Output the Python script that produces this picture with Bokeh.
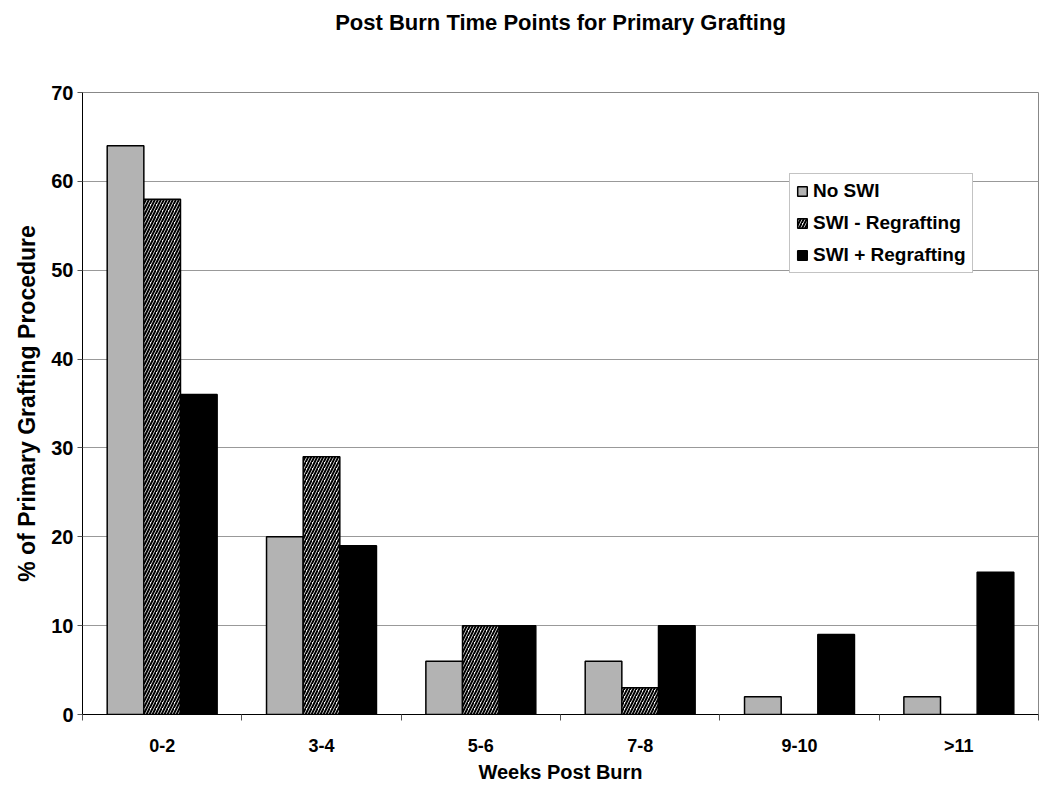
from bokeh.plotting import figure
from bokeh.models import (ColumnDataSource, Range1d, FixedTicker, LinearAxis,
                          CustomJSTickFormatter, Legend, LegendItem)
from bokeh.transform import dodge
from bokeh.embed import file_html
from bokeh.resources import INLINE

categories = ["0-2", "3-4", "5-6", "7-8", "9-10", ">11"]
no_swi = [64, 20, 6, 6, 2, 2]
swi_minus = [58, 29, 10, 3, 0, 0]
swi_plus = [36, 19, 10, 10, 9, 16]
series_names = ["No SWI", "SWI - Regrafting", "SWI + Regrafting"]
y_ticks = [0, 10, 20, 30, 40, 50, 60, 70]
title_text = "Post Burn Time Points for Primary Grafting"

FONT = "Liberation Sans"
n = len(categories)

# category index -> centre of its slot on a numeric axis
source = ColumnDataSource(data=dict(cat=categories, pos=[i + 0.5 for i in range(n)],
                                    a=no_swi, b=swi_minus, c=swi_plus))

p = figure(width=1050, height=787, x_range=Range1d(0, n),
           y_range=Range1d(0, 70), output_backend="svg", toolbar_location=None,
           min_border_left=82, min_border_right=12,
           min_border_top=92, min_border_bottom=73)

W = 0.23
r1 = p.vbar(x=dodge("pos", -W), top="a", width=W, source=source,
            fill_color="#b3b3b3", line_color="black", line_width=1.5)
r2 = p.vbar(x=dodge("pos", 0), top="b", width=W, source=source,
            fill_color="white", line_color="black", line_width=1.5,
            hatch_pattern="/", hatch_color="black", hatch_scale=6, hatch_weight=2)
r3 = p.vbar(x=dodge("pos", W), top="c", width=W, source=source,
            fill_color="black", line_color="black", line_width=1.5)

# x axis (bottom): ticks at category boundaries, labels at centres
xax = p.below[0]
xax.ticker = FixedTicker(ticks=[i + 0.5 for i in range(n)], minor_ticks=list(range(n + 1)))
xax.formatter = CustomJSTickFormatter(args=dict(labels=categories),
                                      code="return labels[Math.floor(tick)]")
xax.axis_label = "Weeks Post Burn"
xax.major_tick_out = 0
xax.major_tick_in = 0
xax.minor_tick_out = 6
xax.minor_tick_in = 0
xax.minor_tick_line_color = "#555555"
xax.axis_line_color = "black"
xax.major_label_standoff = 15
xax.major_label_text_font = FONT
xax.major_label_text_font_size = "18px"
xax.major_label_text_font_style = "bold"
xax.major_label_text_color = "black"
xax.axis_label_text_font = FONT
xax.axis_label_text_font_size = "20px"
xax.axis_label_text_font_style = "bold"
xax.axis_label_text_color = "black"
xax.axis_label_standoff = 2

# title carried by a bare axis above the plot
tax = LinearAxis(ticker=FixedTicker(ticks=[], minor_ticks=[]), axis_label=title_text)
tax.axis_line_color = None
tax.major_tick_line_color = None
tax.minor_tick_line_color = None
tax.major_tick_out = 0
tax.major_tick_in = 0
tax.minor_tick_out = 0
tax.minor_tick_in = 0
tax.major_label_text_font_size = "0px"
tax.major_label_standoff = 0
tax.axis_label_standoff = 58
tax.axis_label_text_font = FONT
tax.axis_label_text_font_size = "22px"
tax.axis_label_text_font_style = "bold"
tax.axis_label_text_color = "black"
p.add_layout(tax, "above")

yax = p.left[0]
yax.ticker = FixedTicker(ticks=y_ticks)
yax.minor_tick_line_color = None
yax.major_tick_out = 5
yax.major_tick_in = 0
yax.major_tick_line_color = "#555555"
yax.axis_line_color = "black"
yax.major_label_standoff = 4
yax.major_label_text_font = FONT
yax.major_label_text_font_size = "20px"
yax.major_label_text_font_style = "bold"
yax.major_label_text_color = "black"
yax.axis_label = "% of Primary Grafting Procedure"
yax.axis_label_text_font = FONT
yax.axis_label_text_font_size = "23px"
yax.axis_label_text_font_style = "bold"
yax.axis_label_text_color = "black"
yax.axis_label_standoff = 8

p.xgrid.grid_line_color = None
p.ygrid.ticker = FixedTicker(ticks=y_ticks)
p.ygrid.grid_line_color = "#999999"
p.ygrid.grid_line_width = 1
p.outline_line_color = "#888888"
p.outline_line_width = 1
p.background_fill_color = "white"
p.border_fill_color = "white"

legend = Legend(items=[LegendItem(label=series_names[0], renderers=[r1]),
                       LegendItem(label=series_names[1], renderers=[r2]),
                       LegendItem(label=series_names[2], renderers=[r3])],
                location=(707, 441), orientation="vertical",
                glyph_width=12, glyph_height=12, label_height=22, spacing=10,
                padding=6, margin=0, label_standoff=5,
                label_text_font=FONT, label_text_font_size="19px",
                label_text_font_style="bold", label_text_color="black",
                border_line_color="#888888", border_line_width=1,
                background_fill_color="white", background_fill_alpha=1)
p.add_layout(legend, "center")

open("out.html", "w").write(file_html(p, INLINE))
